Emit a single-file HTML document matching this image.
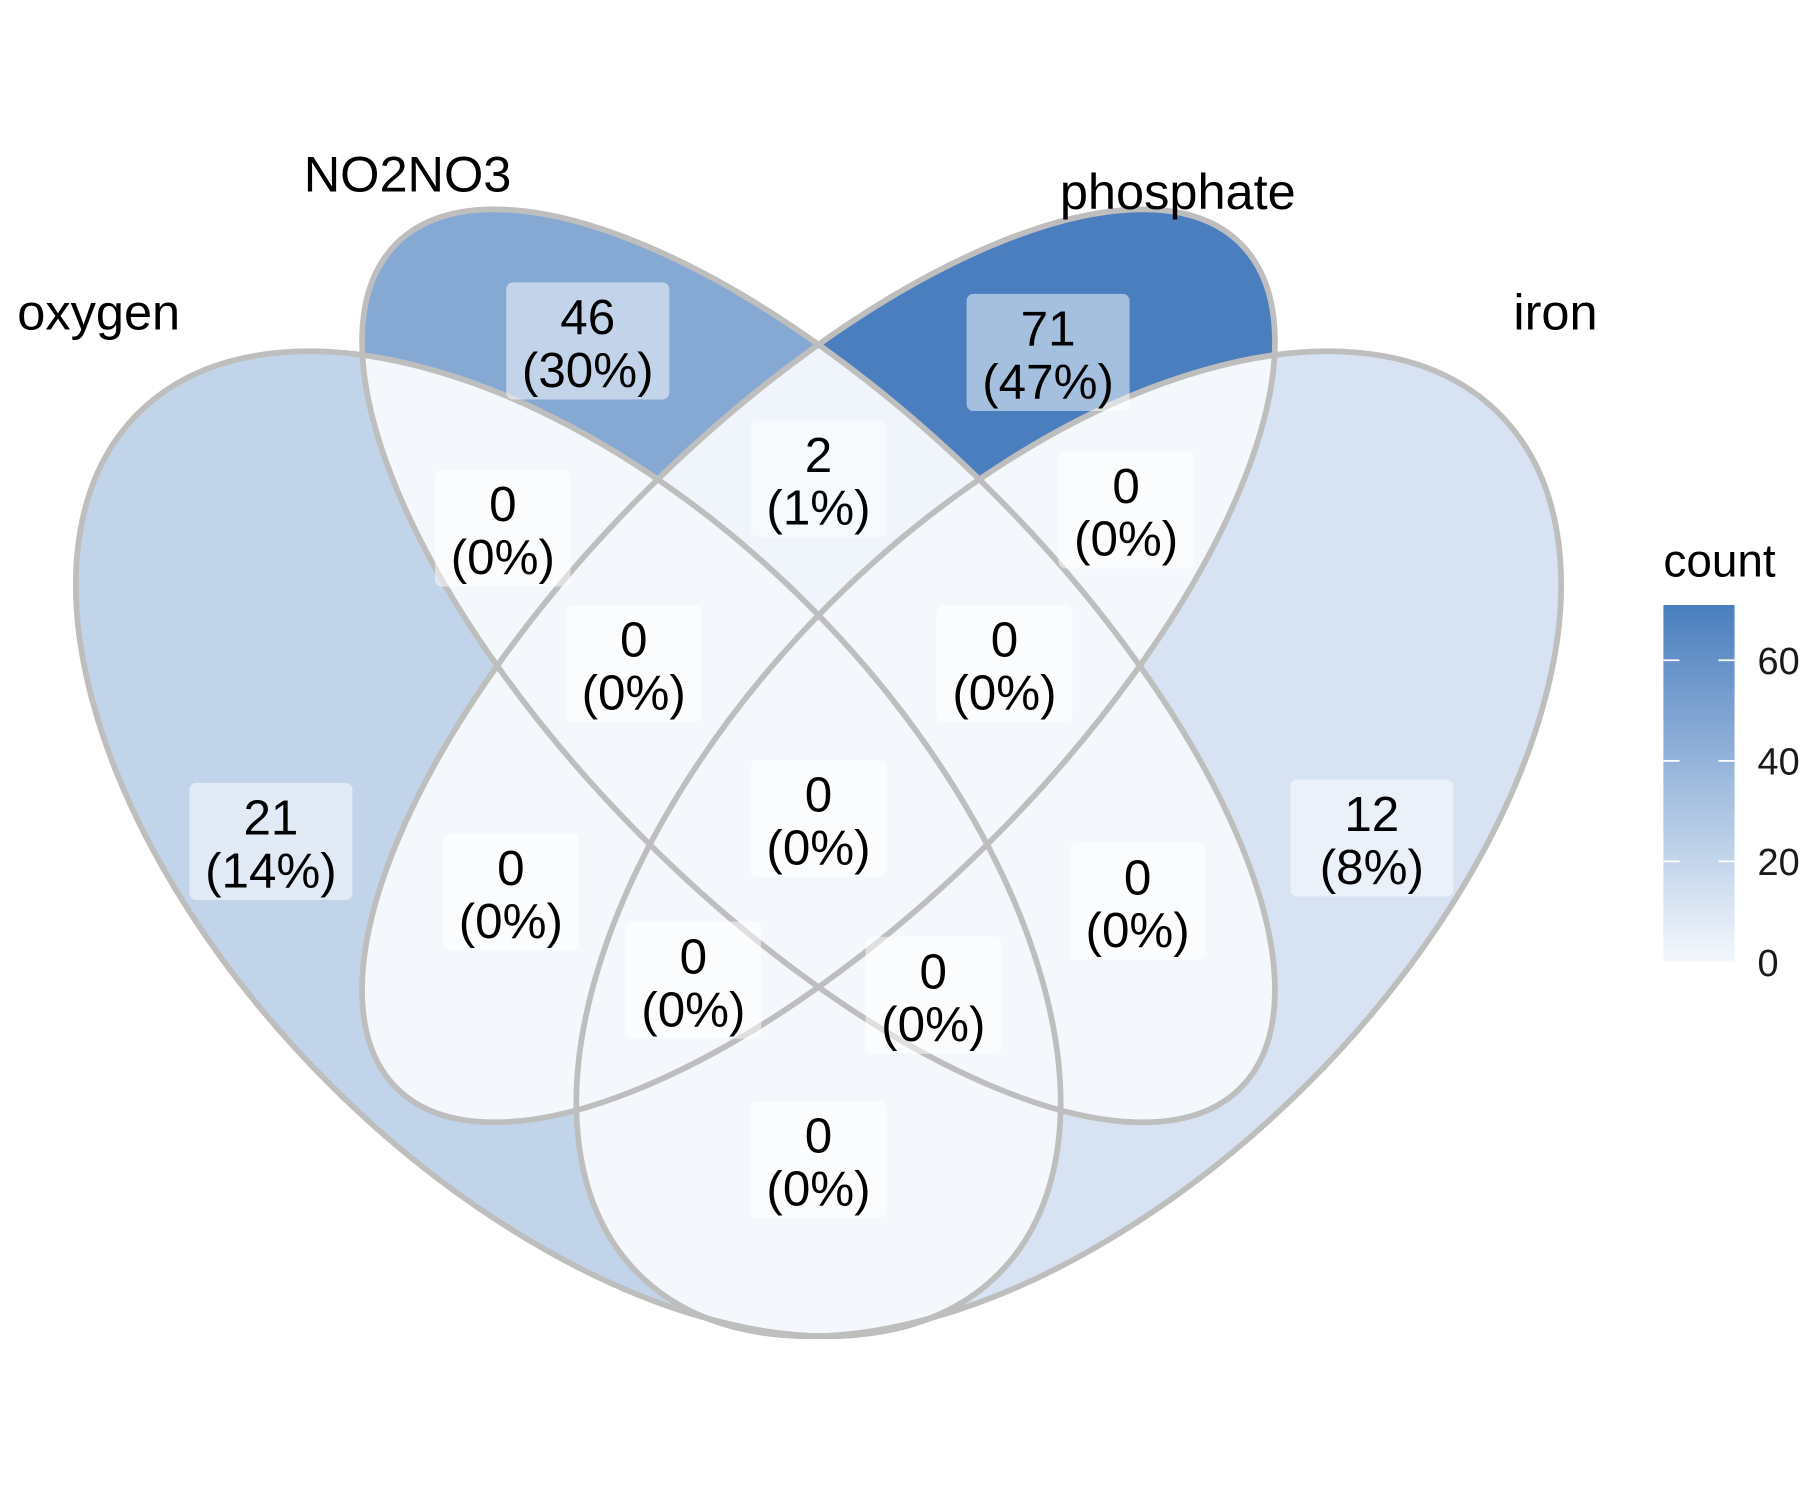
<!DOCTYPE html>
<html><head><meta charset="utf-8"><style>
html,body{margin:0;padding:0;background:#fff;}
svg{display:block;font-family:"Liberation Sans",Arial,sans-serif;}
</style></head><body>
<svg id="venn" width="1800" height="1500" viewBox="0 0 1568 1306.67" xmlns="http://www.w3.org/2000/svg">
<defs>
<linearGradient id="cbar" x1="0" y1="1" x2="0" y2="0">
<stop offset="0" stop-color="#F4F8FD"/><stop offset="1" stop-color="#4A7EBE"/>
</linearGradient>
</defs>
<g id="fills"></g>
<g id="outlines"></g>
<g id="labels"></g>
<g id="setnames"></g>
<g id="legend"></g>
</svg>
<script>
// data
const setNames = ["oxygen", "NO2NO3", "phosphate", "iron"];
// region counts: single sets
const soloCounts = [21, 46, 71, 12];
// region keys (sets involved) and counts
const regionKeys = ["NO2NO3","phosphate","NO2NO3&phosphate","oxygen&NO2NO3","phosphate&iron","oxygen&NO2NO3&phosphate","NO2NO3&phosphate&iron","oxygen","iron","all","oxygen&phosphate","NO2NO3&iron","oxygen&NO2NO3&iron","oxygen&phosphate&iron","oxygen&iron"];
const regionCounts = [46, 71, 2, 0, 0, 0, 0, 21, 12, 0, 0, 0, 0, 0, 0];
const legendTicks = [0, 20, 40, 60];
const total = 152;

// layout (not data)
const ellipses = [
  {cx:495, cy:735, a:530, b:295, r:45},
  {cx:713, cy:580, a:520, b:214, r:45},
  {cx:713, cy:580, a:520, b:214, r:-45},
  {cx:931, cy:735, a:530, b:295, r:-45}
];
const labelPos = [[512,297],[913,307],[713,417],[438,460],[981,444],[552,578],[875,578],[236,733],[1195,730],[713,713],[445,777],[991,785],[604,854],[813,867],[713,1010]];
const nameLayout = [[86,272,"middle"],[355,152,"middle"],[1026,167,"middle"],[1355,272,"middle"]];

const NS = "http://www.w3.org/2000/svg";
const svg = document.getElementById('venn');
const maxC = 71;
function hex(c){return [parseInt(c.slice(1,3),16),parseInt(c.slice(3,5),16),parseInt(c.slice(5,7),16)];}
const lo = hex("#F4F8FD"), hi = hex("#4A7EBE");
function colorOf(v){const t=Math.max(0,Math.min(1,v/maxC));return "rgb("+lo.map((l,i)=>Math.round(l+(hi[i]-l)*t)).join(",")+")";}
function mk(tag, attrs){const e=document.createElementNS(NS,tag);for(const k in attrs)e.setAttribute(k,attrs[k]);return e;}
function ell(i, extra){const E=ellipses[i];return mk('ellipse',Object.assign({cx:E.cx,cy:E.cy,rx:E.a,ry:E.b,transform:`rotate(${E.r} ${E.cx} ${E.cy})`},extra||{}));}

const defs = svg.querySelector('defs');
ellipses.forEach((E,i)=>{const cp=mk('clipPath',{id:'clip'+i});cp.appendChild(ell(i));defs.appendChild(cp);});

const fills = document.getElementById('fills');
setNames.forEach((n,i)=>{
  const e = ell(i,{fill:colorOf(soloCounts[i])});
  
  
  fills.appendChild(e);
});
const pairs = [[1,2],[0,3],[0,1],[0,2],[3,1],[3,2]];
pairs.forEach(([i,j])=>{
  let key = setNames[i]+"&"+setNames[j];
  let idx = regionKeys.indexOf(key);
  if(idx<0) idx = regionKeys.indexOf(setNames[j]+"&"+setNames[i]);
  const v = idx>=0 ? regionCounts[idx] : 0;
  const g = mk('g',{'clip-path':`url(#clip${j})`});
  const e = ell(i,{fill:colorOf(v)});
  g.appendChild(e);
  
  
  fills.appendChild(g);
});
const outl = document.getElementById('outlines');
setNames.forEach((n,i)=>{
  const e = ell(i,{fill:'none',stroke:'#BEBEBE','stroke-width':5});
  
  
  outl.appendChild(e);
});
const lab = document.getElementById('labels');
regionCounts.forEach((c,i)=>{
  const [x,y]=labelPos[i];
  const pct = Math.round(c/total*100);
  const g = mk('g',{});
  
  
  const w = (String(c).length>1||pct>=10)?142:118;
  g.appendChild(mk('rect',{x:x-w/2,y:y-51,width:w,height:102,rx:6,fill:'#ffffff','fill-opacity':0.5}));
  const t1 = mk('text',{x:x,y:y-6,'text-anchor':'middle','font-size':43,fill:'#000'}); t1.textContent=String(c);
  const t2 = mk('text',{x:x,y:y+40,'text-anchor':'middle','font-size':43,fill:'#000'}); t2.textContent='('+pct+'%)';
  g.appendChild(t1); g.appendChild(t2);
  lab.appendChild(g);
});
const sn = document.getElementById('setnames');
setNames.forEach((n,i)=>{
  const [x,y,a]=nameLayout[i];
  const t = mk('text',{x:x,y:y+15,'text-anchor':a,'font-size':44,fill:'#000'});
  t.textContent = n;
  
  
  sn.appendChild(t);
});
const lg = document.getElementById('legend');
const barTop=527, barBot=838, barX=1449, barW=62;
const yL = v => barBot - (v/maxC)*(barBot-barTop);
const title = mk('text',{x:1449,y:502,'font-size':40,fill:'#000'}); title.textContent='count';


lg.appendChild(title);
const bar = mk('rect',{x:barX,y:barTop,width:barW,height:barBot-barTop,fill:'url(#cbar)'});


lg.appendChild(bar);
legendTicks.forEach(v=>{
  const y=yL(v);
  if(v>0){
    lg.appendChild(mk('line',{x1:barX,x2:barX+14,y1:y,y2:y,stroke:'#fff','stroke-width':1.5}));
    lg.appendChild(mk('line',{x1:barX+barW-14,x2:barX+barW,y1:y,y2:y,stroke:'#fff','stroke-width':1.5}));
  }
  const t = mk('text',{x:1531,y:y+12,'font-size':33,fill:'#1a1a1a'}); t.textContent=String(v);
  
  
  lg.appendChild(t);
});
</script>
</body></html>
